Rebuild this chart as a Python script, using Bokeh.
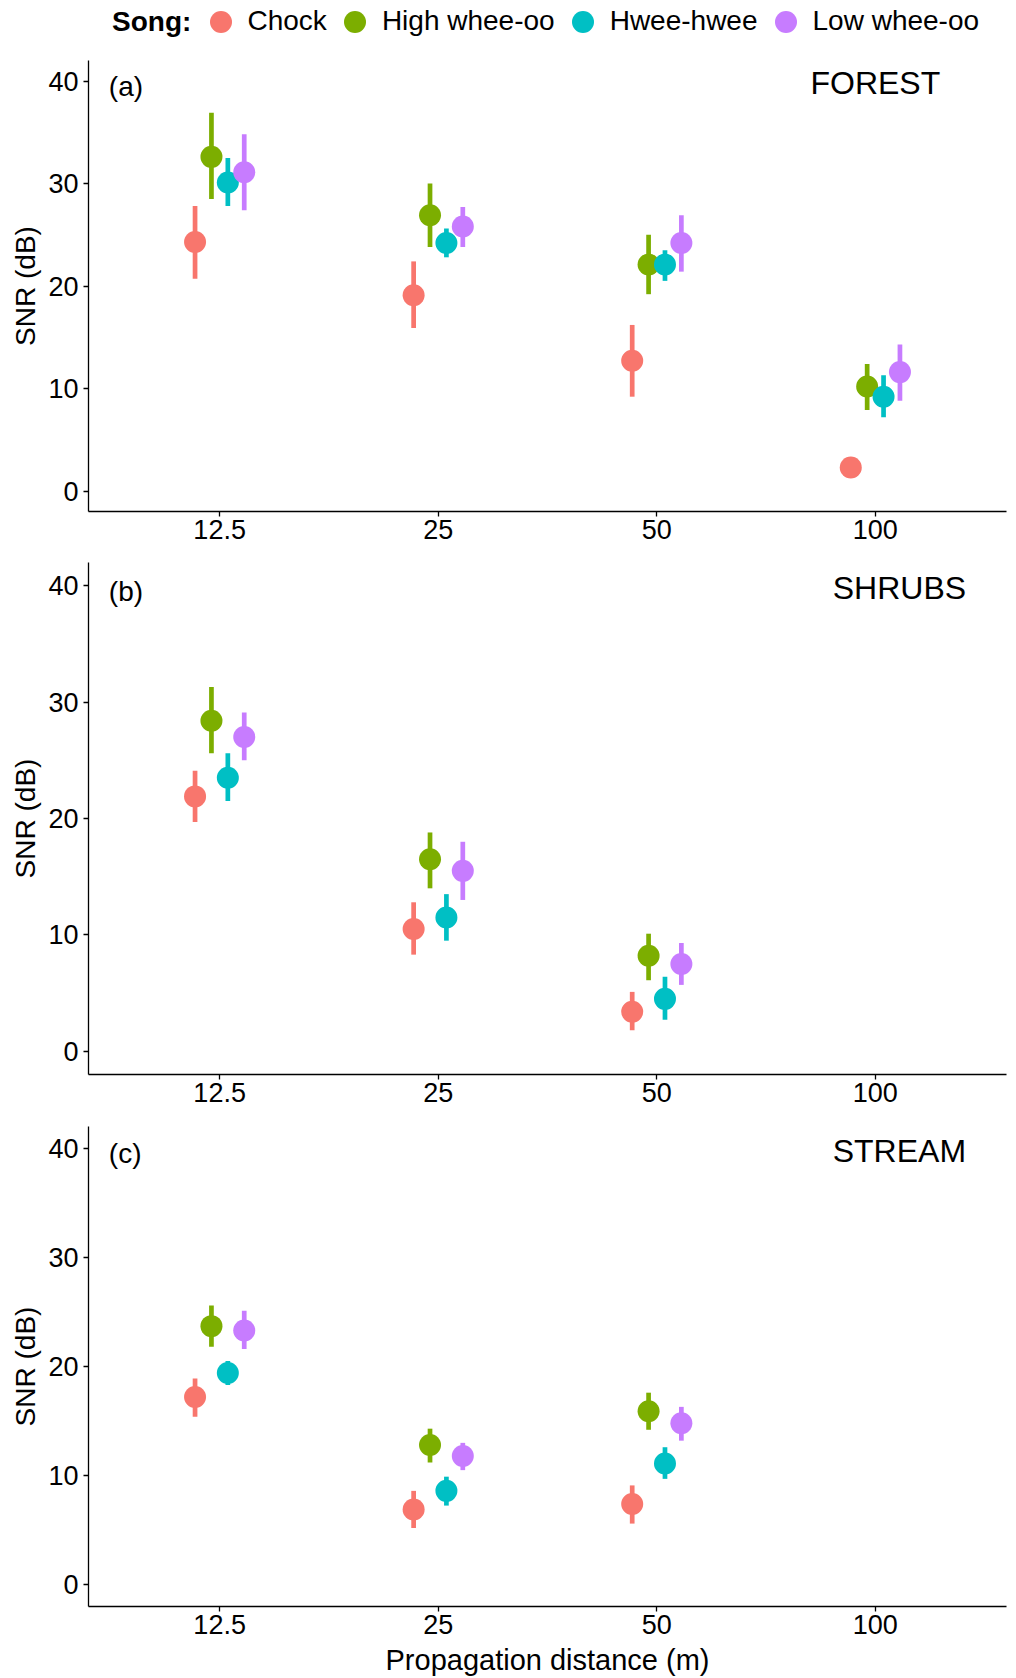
import numpy as np
from bokeh.plotting import figure
from bokeh.models import (ColumnDataSource, FactorRange, Range1d, FixedTicker,
                          Legend, LegendItem, Label)
from bokeh.transform import dodge
from bokeh.layouts import column
from bokeh.embed import file_html
from bokeh.resources import INLINE
from bokeh.core.properties import value

nan = float("nan")

# ---------------- data ----------------
distances = ["12.5", "25", "50", "100"]
songs = ["Chock", "High whee-oo", "Hwee-hwee", "Low whee-oo"]
song_colors = ["#F8766D", "#7CAE00", "#00BFC4", "#C77CFF"]
y_ticks = [0, 10, 20, 30, 40]

# (a) FOREST: mean SNR and error-bar limits at 12.5, 25, 50, 100 m
forest_chock = [24.3, 19.1, 12.7, 2.3]
forest_chock_lo = [20.7, 15.9, 9.2, nan]
forest_chock_hi = [27.8, 22.4, 16.2, nan]
forest_high = [32.6, 26.9, 22.1, 10.2]
forest_high_lo = [28.5, 23.8, 19.2, 7.9]
forest_high_hi = [36.9, 30.0, 25.0, 12.4]
forest_hwee = [30.1, 24.2, 22.1, 9.2]
forest_hwee_lo = [27.8, 22.8, 20.5, 7.2]
forest_hwee_hi = [32.5, 25.6, 23.5, 11.3]
forest_low = [31.1, 25.8, 24.2, 11.6]
forest_low_lo = [27.4, 23.8, 21.4, 8.8]
forest_low_hi = [34.8, 27.7, 26.9, 14.3]

# (b) SHRUBS
shrubs_chock = [21.9, 10.5, 3.4, nan]
shrubs_chock_lo = [19.7, 8.3, 1.8, nan]
shrubs_chock_hi = [24.1, 12.8, 5.1, nan]
shrubs_high = [28.4, 16.5, 8.2, nan]
shrubs_high_lo = [25.6, 14.0, 6.1, nan]
shrubs_high_hi = [31.3, 18.8, 10.1, nan]
shrubs_hwee = [23.5, 11.5, 4.5, nan]
shrubs_hwee_lo = [21.5, 9.5, 2.7, nan]
shrubs_hwee_hi = [25.6, 13.5, 6.4, nan]
shrubs_low = [27.0, 15.5, 7.5, nan]
shrubs_low_lo = [25.0, 13.0, 5.7, nan]
shrubs_low_hi = [29.1, 18.0, 9.3, nan]

# (c) STREAM
stream_chock = [17.2, 6.9, 7.4, nan]
stream_chock_lo = [15.4, 5.2, 5.6, nan]
stream_chock_hi = [18.9, 8.6, 9.1, nan]
stream_high = [23.7, 12.8, 15.9, nan]
stream_high_lo = [21.8, 11.2, 14.2, nan]
stream_high_hi = [25.6, 14.3, 17.6, nan]
stream_hwee = [19.4, 8.6, 11.1, nan]
stream_hwee_lo = [18.3, 7.25, 9.7, nan]
stream_hwee_hi = [20.5, 9.9, 12.6, nan]
stream_low = [23.3, 11.8, 14.8, nan]
stream_low_lo = [21.6, 10.5, 13.2, nan]
stream_low_hi = [25.1, 13.0, 16.3, nan]

panels = [
    ("(a)", "FOREST", [
        (forest_chock, forest_chock_lo, forest_chock_hi),
        (forest_high, forest_high_lo, forest_high_hi),
        (forest_hwee, forest_hwee_lo, forest_hwee_hi),
        (forest_low, forest_low_lo, forest_low_hi)]),
    ("(b)", "SHRUBS", [
        (shrubs_chock, shrubs_chock_lo, shrubs_chock_hi),
        (shrubs_high, shrubs_high_lo, shrubs_high_hi),
        (shrubs_hwee, shrubs_hwee_lo, shrubs_hwee_hi),
        (shrubs_low, shrubs_low_lo, shrubs_low_hi)]),
    ("(c)", "STREAM", [
        (stream_chock, stream_chock_lo, stream_chock_hi),
        (stream_high, stream_high_lo, stream_high_hi),
        (stream_hwee, stream_hwee_lo, stream_hwee_hi),
        (stream_low, stream_low_lo, stream_low_hi)]),
]

# ---------------- style / layout ----------------
FONT = "Liberation Sans"
W = 1016
BORDER_LEFT = 88
BORDER_RIGHT = 10
dodge_offsets = [-0.1125, -0.0375, 0.0375, 0.1125]
title_offsets = [0.0, 0.11, 0.11]
# (border_top, frame_height, border_bottom)
geom = [(20, 451, 45), (6, 512, 45), (7, 481, 71)]


def make_panel(idx, tag, title, series):
    bt, fh, bb = geom[idx]
    p = figure(width=W, height=bt + fh + bb,
               x_range=FactorRange(*distances, range_padding=0.05),
               y_range=Range1d(-2, 42),
               output_backend="svg", toolbar_location=None,
               min_border_left=BORDER_LEFT, min_border_right=BORDER_RIGHT,
               min_border_top=bt, min_border_bottom=bb)
    p.outline_line_color = None
    p.xgrid.visible = False
    p.ygrid.visible = False
    p.background_fill_color = "white"
    p.border_fill_color = "white"

    for ax in (p.xaxis[0], p.yaxis[0]):
        ax.axis_line_color = "black"
        ax.axis_line_width = 1.3
        ax.major_tick_line_color = "black"
        ax.major_tick_line_width = 1.3
        ax.major_tick_out = 5
        ax.major_tick_in = 0
        ax.minor_tick_line_color = None
        ax.major_label_text_font = FONT
        ax.major_label_text_font_size = "27px"
        ax.major_label_text_color = "black"
        ax.axis_label_text_font = FONT
        ax.axis_label_text_font_size = "28px"
        ax.axis_label_text_font_style = "normal"
        ax.axis_label_text_color = "black"

    p.yaxis.ticker = FixedTicker(ticks=y_ticks)
    p.yaxis.major_label_standoff = 5
    p.yaxis.axis_label = "SNR (dB)"
    p.yaxis.axis_label_standoff = 4
    p.xaxis.major_label_standoff = 3
    if idx == 2:
        p.xaxis.axis_label = "Propagation distance (m)"
        p.xaxis.axis_label_text_font_size = "29px"
        p.xaxis.axis_label_standoff = 7

    sources = []
    for (mean, lo, hi) in series:
        sources.append(ColumnDataSource(dict(
            dist=distances,
            mean=np.array(mean, dtype=float),
            lo=np.array(lo, dtype=float),
            hi=np.array(hi, dtype=float))))

    for src, off, col in zip(sources, dodge_offsets, song_colors):
        xd = dodge("dist", off, range=p.x_range)
        p.segment(x0=xd, y0="lo", x1=xd, y1="hi", source=src,
                  line_color=col, line_width=4.7, line_cap="butt")
    for src, off, col in zip(sources, dodge_offsets, song_colors):
        xd = dodge("dist", off, range=p.x_range)
        p.scatter(x=xd, y="mean", source=src, size=22,
                  fill_color=col, line_color=None)

    tag_src = ColumnDataSource(dict(dist=[distances[0]], y=[39.5], t=[tag]))
    p.text(x=dodge("dist", -0.507, range=p.x_range), y="y", text="t",
           source=tag_src, text_font=value(FONT), text_font_size="28px",
           text_align="left", text_baseline="middle", text_color="black")
    ttl_src = ColumnDataSource(dict(dist=[distances[-1]], y=[39.8], t=[title]))
    p.text(x=dodge("dist", title_offsets[idx], range=p.x_range), y="y", text="t",
           source=ttl_src, text_font=value(FONT), text_font_size="32px",
           text_align="center", text_baseline="middle", text_color="black")
    return p


# ---------------- legend strip ----------------
lf = figure(width=W, height=40, x_range=Range1d(0, 1), y_range=Range1d(0, 1),
            output_backend="svg", toolbar_location=None,
            x_axis_location=None, y_axis_location=None,
            min_border_left=BORDER_LEFT, min_border_right=BORDER_RIGHT,
            min_border_top=0, min_border_bottom=0)
lf.outline_line_color = None
lf.xgrid.visible = False
lf.ygrid.visible = False
items = []
for song, col in zip(songs, song_colors):
    # legend proxy: one non-drawable (NaN) point per song, only its legend swatch shows
    r = lf.scatter(x=[nan], y=[nan], size=22, fill_color=col, line_color=None)
    items.append(LegendItem(label=song, renderers=[r]))
legend = Legend(items=items, orientation="horizontal", location=(104.5, -8.5),
                glyph_width=55, glyph_height=55, label_standoff=0, spacing=0,
                padding=0, margin=0, border_line_color=None,
                background_fill_alpha=0,
                label_text_font=FONT, label_text_font_size="28px",
                label_text_color="black")
lf.add_layout(legend)
lf.add_layout(Label(x=23.5, y=19, x_units="screen", y_units="screen",
                    text="Song:", text_font=FONT, text_font_size="28px",
                    text_font_style="bold", text_baseline="middle",
                    text_color="black"))

figs = [lf] + [make_panel(i, tag, ttl, ser) for i, (tag, ttl, ser) in enumerate(panels)]
layout = column(*figs, spacing=0)

open("out.html", "w").write(file_html(layout, INLINE))
